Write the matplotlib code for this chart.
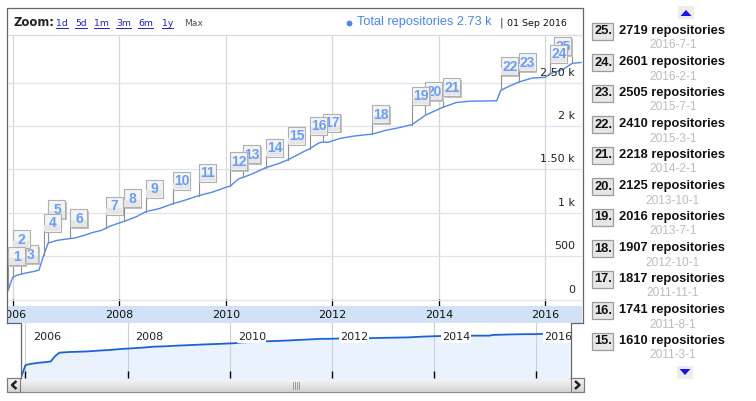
import numpy as np
import pandas as pd
import matplotlib
matplotlib.use("Agg")
import matplotlib.pyplot as plt
import matplotlib.dates as mdates
from matplotlib.patches import Rectangle, Polygon
from datetime import datetime

# --- DATA ---------------------------------------------------------------
line_dates = [
    "2005-12-01", "2006-01-01", "2006-02-01", "2006-04-01", "2006-06-01",
    "2006-07-01", "2006-08-01", "2006-09-01", "2006-11-01", "2007-01-01",
    "2007-03-01", "2007-05-01", "2007-07-01", "2007-09-01", "2007-11-01",
    "2008-01-01", "2008-03-01", "2008-05-01", "2008-07-01", "2008-10-01",
    "2009-01-01", "2009-04-01", "2009-07-01", "2009-10-01", "2010-01-01",
    "2010-02-01", "2010-04-01", "2010-05-01", "2010-07-01", "2010-10-01",
    "2011-01-01", "2011-03-01", "2011-06-01", "2011-08-01", "2011-10-01",
    "2011-11-01", "2011-12-01", "2012-03-01", "2012-06-01", "2012-10-01",
    "2013-01-01", "2013-04-01", "2013-07-01", "2013-10-01", "2014-02-01",
    "2014-05-01", "2014-08-01", "2015-02-01", "2015-03-01", "2015-05-01",
    "2015-07-01", "2015-10-01", "2016-01-01", "2016-02-01", "2016-05-01",
    "2016-07-01", "2016-09-01",
]
line_values = [
    110, 262, 285, 310, 330,
    345, 510, 655, 685, 700,
    712, 740, 775, 800, 850,
    885, 920, 960, 1015, 1050,
    1105, 1150, 1200, 1240, 1295,
    1310, 1395, 1410, 1450, 1520,
    1570, 1610, 1690, 1741, 1805,
    1817, 1812, 1860, 1885, 1907,
    1950, 1980, 2016, 2125, 2218,
    2270, 2285, 2290, 2410, 2460,
    2505, 2550, 2560, 2601, 2650,
    2719, 2730,
]

ann_dates = [
    "2005-12-1", "2006-1-1", "2006-3-1", "2006-8-1", "2006-9-1",
    "2007-2-1", "2007-10-1", "2008-2-1", "2008-7-1", "2009-1-1",
    "2009-7-1", "2010-2-1", "2010-5-1", "2010-10-1", "2011-3-1",
    "2011-8-1", "2011-11-1", "2012-10-1", "2013-7-1", "2013-10-1",
    "2014-2-1", "2015-3-1", "2015-7-1", "2016-2-1", "2016-7-1",
]
ann_values = [
    110, 262, 305, 520, 655,
    710, 830, 905, 1015, 1105,
    1200, 1310, 1410, 1520, 1610,
    1741, 1817, 1907, 2016, 2125,
    2218, 2410, 2505, 2601, 2719,
]

year_ticks = [2006, 2008, 2010, 2012, 2014, 2016]
y_ticks = [0, 500, 1000, 1500, 2000, 2500]
y_tick_labels = ["0", "500", "1 k", "1.50 k", "2 k", "2.50 k"]
zoom_links = ["1d", "5d", "1m", "3m", "6m", "1y"]
series_name = "Total repositories"
latest_label = "2.73 k"
latest_date = "01 Sep 2016"

# --- STYLE --------------------------------------------------------------
W, H = 756, 401
VERDANA = "DejaVu Sans"
ARIAL = "Liberation Sans"
FRAME = "#666666"
# how far (px) each flag sits above its point
FLAG_LIFT_PX = [25, 29, 10, 23, 25, 11, 13, 14, 14, 14, 14, 16, 14, 11, 15,
                14, 10, 11, 20, 15, 11, 15, 11, 11, 8]
FLAG_W, FLAG_H = 17, 18
FLAG_MAX_LEFT = 554  # flags are pushed left to stay inside the plot
PT = 0.72  # points per pixel at dpi 100


def rect(x0, y0, x1, y1):
    return [x0 / W, 1 - y1 / H, (x1 - x0) / W, (y1 - y0) / H]


fig = plt.figure(figsize=(W / 100, H / 100), dpi=100)
fig.patch.set_facecolor("white")

bg = fig.add_axes([0, 0, 1, 1], zorder=0)
bg.axis("off")

ax = fig.add_axes(rect(8, 35, 582, 306), zorder=1)
band = fig.add_axes(rect(8, 306, 582, 323), zorder=1)
ov = fig.add_axes(rect(21, 323, 571, 378), zorder=1)
top = fig.add_axes([0, 0, 1, 1], zorder=5)
top.set_xlim(0, W)
top.set_ylim(H, 0)
top.axis("off")
top.patch.set_alpha(0)

dates = pd.to_datetime(line_dates)
xs = mdates.date2num(dates.to_pydatetime())
ys = np.array(line_values, dtype=float)
adates = pd.to_datetime(ann_dates)
axs = mdates.date2num(adates.to_pydatetime())
year_x = [mdates.date2num(datetime(y, 1, 1)) for y in year_ticks]
X0 = mdates.date2num(datetime(2005, 11, 30))
X1 = mdates.date2num(datetime(2016, 9, 8))

# --- MAIN PLOT ----------------------------------------------------------
ax.set_xlim(X0, X1)
ax.set_ylim(-69, 3046)
ax.plot(xs, ys, color="#4d89ef", lw=1.0, zorder=3)
ax.set_xticks(year_x)
ax.set_yticks(y_ticks)
ax.xaxis.grid(True, color="#d2d8d2", lw=0.9)
ax.yaxis.grid(True, color="#e2e2f3", lw=0.9)
ax.set_axisbelow(True)
ax.tick_params(axis="x", direction="in", length=5, width=0.9, color="black",
               labelbottom=False)
ax.tick_params(axis="y", length=0, labelleft=False)
for s in ax.spines.values():
    s.set_visible(False)
for v, lab in zip(y_ticks, y_tick_labels):
    ax.annotate(lab, xy=(1, v), xycoords=("axes fraction", "data"),
                xytext=(-7 * PT, 10 * PT), textcoords="offset points",
                ha="right", va="center", fontsize=8, family=VERDANA,
                color="#222222", zorder=4)

# --- DATE BAND ----------------------------------------------------------
band.set_xlim(X0, X1)
band.set_ylim(0, 1)
band.set_facecolor("#d1e2f6")
band.set_xticks([])
band.set_yticks([])
for s in band.spines.values():
    s.set_visible(False)
for yr, x in zip(year_ticks, year_x):
    band.text(x, 0.47, str(yr), ha="center", va="center", fontsize=8,
              family=VERDANA, color="#111111", clip_on=True)

# --- OVERVIEW -----------------------------------------------------------
ov.set_xlim(X0, X1)
ov.set_yscale("log")
ov.set_ylim(102, 5800)
ov.fill_between(xs, ys, 50, color="#eaf3fd", lw=0)
ov.plot(xs, ys, color="#1b63d4", lw=1.3)
ov.set_xticks(year_x)
ov.yaxis.set_major_locator(matplotlib.ticker.NullLocator())
ov.yaxis.set_minor_locator(matplotlib.ticker.NullLocator())
ov.xaxis.grid(True, color="#c9d0d8", lw=0.8)
ov.tick_params(axis="x", direction="in", length=5, width=1.0, color="black",
               labelbottom=False)
for s in ov.spines.values():
    s.set_visible(False)
for yr, x in zip(year_ticks, year_x):
    ov.annotate(str(yr), xy=(x, 0.745), xycoords=("data", "axes fraction"),
                xytext=(8 * PT, 0), textcoords="offset points", ha="left",
                va="center", fontsize=8, family=VERDANA, color="#222222",
                bbox=dict(boxstyle="square,pad=0.05", fc="white", ec="none"),
                clip_on=True)

# --- FLAGS --------------------------------------------------------------
for i in range(len(ann_values) - 1, -1, -1):
    dx, dy = ax.transData.transform((axs[i], ann_values[i]))
    px, py = dx, H - dy
    fx = min(px, FLAG_MAX_LEFT)
    b = py - FLAG_LIFT_PX[i]
    t = b - FLAG_H
    z = 10 + (len(ann_values) - i) * 3
    top.plot([px, px], [py, b], color="#8f8f8f", lw=0.8, zorder=z)
    top.add_patch(Rectangle((fx + 1.5, t + 1.5), FLAG_W, FLAG_H,
                            fc="#c2c2c2", ec="none", zorder=z))
    top.add_patch(Rectangle((fx, t), FLAG_W, FLAG_H, fc="#f4f4f4",
                            ec="#b0b0b0", lw=0.8, zorder=z + 1))
    top.add_patch(Rectangle((fx + 0.6, t + FLAG_H * 0.6), FLAG_W - 1.2,
                            FLAG_H * 0.4 - 0.6, fc="#e6e6e6", ec="none",
                            zorder=z + 1))
    top.text(fx + FLAG_W / 2 + 0.5, t + FLAG_H / 2 + 0.5, str(i + 1),
             ha="center", va="center", fontsize=10, fontweight="bold",
             family=ARIAL, color="#6a9ef6", zorder=z + 2)

# --- CHROME: frames, header, scrollbar ----------------------------------
top.plot([7, 7, 583, 583], [323, 8, 8, 323], color=FRAME, lw=0.9, zorder=5)
top.plot([7, 21, 21], [323, 323, 378], color=FRAME, lw=0.9, zorder=5)
top.plot([583, 571, 571], [323, 323, 378], color=FRAME, lw=0.9, zorder=5)
top.plot([8, 582], [34.5, 34.5], color="#dcdcdc", lw=0.9, zorder=5)

top.text(14, 23, "Zoom:", ha="left", va="center", fontsize=8.4,
         fontweight="bold", family=VERDANA, color="#222222")
link_x = [56, 75, 94, 116, 138, 162]
link_texts = []
for lx, lab in zip(link_x, zoom_links):
    link_texts.append(top.text(lx, 23, lab, ha="left", va="center",
                               fontsize=6.7, family=VERDANA, color="#2020c8"))
top.text(184, 23, "Max", ha="left", va="center", fontsize=6.7,
         family=VERDANA, color="#555555")

top.plot([349], [22.5], marker="o", ms=4.2, color="#4a86ee", mec="none")
top.text(357, 22.5, f"{series_name} {latest_label}", ha="left", va="center",
         fontsize=9.2, family=ARIAL, color="#4a86ee")
top.text(501, 22.5, "|", ha="center", va="center", fontsize=8,
         family=VERDANA, color="#333333")
top.text(507, 23, latest_date, ha="left", va="center", fontsize=6.8,
         family=VERDANA, color="#111111")

# scrollbar
grad = np.linspace(0.97, 0.83, 20).reshape(-1, 1)
bg.imshow(grad, extent=(7, 584, 392, 378), cmap="gray", vmin=0, vmax=1,
          aspect="auto", zorder=1)
bg.add_patch(Rectangle((7, 378), 577, 14, fc="none", ec="#8a8a8a", lw=0.8,
                       zorder=2))
for x0 in (7, 571):
    bg.add_patch(Rectangle((x0, 378), 13, 14, fc="none", ec="#7a7a7a",
                           lw=0.8, zorder=2))
bg.plot([16.5, 12, 16.5], [381, 385, 389], color="#222222", lw=1.8,
        solid_capstyle="butt", zorder=3)
bg.plot([575, 579.5, 575], [381, 385, 389], color="#222222", lw=1.8,
        solid_capstyle="butt", zorder=3)
for gx in (293, 295, 297, 299):
    bg.plot([gx, gx], [382, 389], color="#9a9a9a", lw=0.7, zorder=3)

# --- ANNOTATION LIST ----------------------------------------------------
list_idx = list(range(len(ann_values) - 1, len(ann_values) - 12, -1))
for row, i in enumerate(list_idx):
    cy = 31 + 31 * row
    bg.add_patch(Rectangle((592, cy - 8.5), 21, 17, fc="#e6e6e6",
                           ec="#9c9c9c", lw=0.9, zorder=2))
    bg.text(594.5, cy + 0.5, f"{i + 1}.", ha="left", va="center",
            fontsize=9.3, fontweight="bold", family=ARIAL, color="#111111",
            zorder=3)
    bg.text(619, cy, f"{ann_values[i]} repositories", ha="left", va="center",
            fontsize=9.3, fontweight="bold", family=ARIAL, color="#111111",
            zorder=3)
    bg.text(673, cy + 14.5, ann_dates[i], ha="center", va="center",
            fontsize=8.6, family=ARIAL, color="#bdbdbd", zorder=3)

bg.add_patch(Rectangle((678, 6), 16, 13, fc="#ececec", ec="none", zorder=2))
bg.add_patch(Polygon([[680.5, 16], [691.5, 16], [686, 10]], closed=True,
                     fc="#1515e8", ec="none", zorder=3))
bg.add_patch(Rectangle((677, 366), 16, 13, fc="#ececec", ec="none", zorder=2))
bg.add_patch(Polygon([[679.5, 369], [690.5, 369], [685, 375]], closed=True,
                     fc="#1515e8", ec="none", zorder=3))

bg.set_xlim(0, W)
bg.set_ylim(H, 0)

# underline the zoom links
fig.canvas.draw()
rend = fig.canvas.get_renderer()
inv = top.transData.inverted()
for t in link_texts:
    bb = t.get_window_extent(rend)
    (ux0, uy), (ux1, _) = inv.transform([(bb.x0, bb.y0), (bb.x1, bb.y0)])
    top.plot([ux0, ux1], [uy + 0.5, uy + 0.5], color="#2020c8", lw=0.7)

fig.savefig("out.png", dpi=100)
